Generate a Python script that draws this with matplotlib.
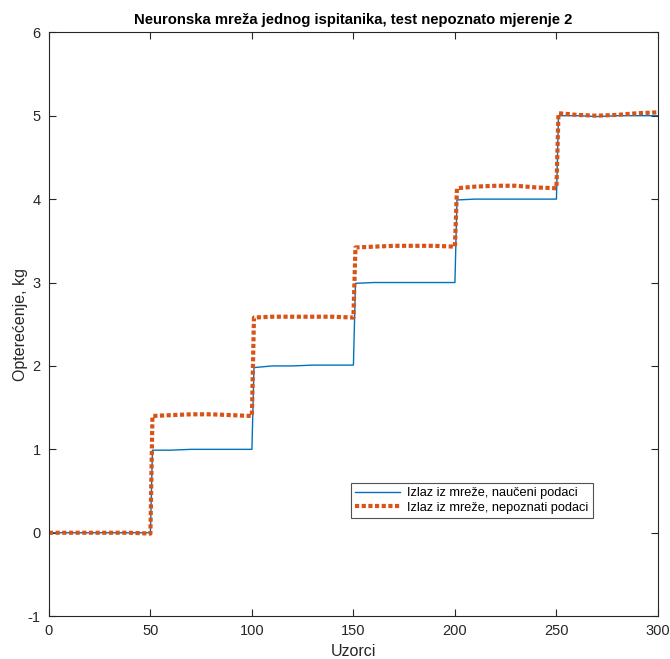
import matplotlib
matplotlib.use("Agg")
import matplotlib.pyplot as plt

plt.rcParams['font.family'] = ['Liberation Sans', 'DejaVu Sans']
plt.rcParams['axes.unicode_minus'] = False

samples = [0, 10, 20, 30, 40, 50,
           51, 60, 70, 80, 90, 100,
           101, 110, 120, 130, 140, 150,
           151, 160, 170, 180, 190, 200,
           201, 210, 220, 230, 240, 250,
           251, 260, 270, 280, 290, 300]
trained = [0, 0, 0, 0, 0, 0,
           0.99, 0.99, 1.0, 1.0, 1.0, 1.0,
           1.98, 2.0, 2.0, 2.01, 2.01, 2.01,
           2.99, 3.0, 3.0, 3.0, 3.0, 3.0,
           3.99, 4.0, 4.0, 4.0, 4.0, 4.0,
           5.0, 5.0, 4.99, 5.0, 5.0, 5.0]
unknown = [0, 0, 0, 0, 0, -0.01,
           1.40, 1.41, 1.42, 1.42, 1.41, 1.40,
           2.58, 2.59, 2.59, 2.59, 2.59, 2.58,
           3.42, 3.43, 3.44, 3.44, 3.44, 3.43,
           4.13, 4.15, 4.16, 4.16, 4.14, 4.13,
           5.03, 5.01, 5.00, 5.01, 5.03, 5.04]

title = "Neuronska mreža jednog ispitanika, test nepoznato mjerenje 2"
xlabel = "Uzorci"
ylabel = "Opterećenje, kg"
labels = ["Izlaz iz mreže, naučeni podaci", "Izlaz iz mreže, nepoznati podaci"]

fig = plt.figure(figsize=(6.7, 6.59), dpi=100)
ax = fig.add_axes([0.073, 0.065, 0.909, 0.886])
ax.plot(samples, trained, color='#0072BD', lw=1.0, label=labels[0])
ax.plot(samples, unknown, color='#D95319', lw=3.0, ls=(0, (1, 0.6)), label=labels[1])

ax.set_xlim(0, 300)
ax.set_ylim(-1, 6)
ax.set_xticks([0, 50, 100, 150, 200, 250, 300])
ax.set_yticks([-1, 0, 1, 2, 3, 4, 5, 6])
ax.tick_params(direction='in', top=True, right=True, labelsize=10.5,
               colors='#262626', length=5, width=0.8, pad=6)
for s in ax.spines.values():
    s.set_color('#262626')
    s.set_linewidth(0.8)
ax.set_title(title, fontsize=10.7, fontweight='bold', pad=6)
ax.set_xlabel(xlabel, fontsize=11.5, color='#262626', labelpad=4)
ax.set_ylabel(ylabel, fontsize=11.5, color='#262626', labelpad=0)

leg = ax.legend(loc='lower left', bbox_to_anchor=(0.496, 0.168, 0.398, 0.065),
                mode='expand', fontsize=9.2, frameon=True, fancybox=False,
                borderpad=0.35, labelspacing=0.2, handlelength=3.5,
                handletextpad=0.55, borderaxespad=0)
leg.get_frame().set_edgecolor('#262626')
leg.get_frame().set_linewidth(0.8)

fig.savefig("out.png", dpi=100)
